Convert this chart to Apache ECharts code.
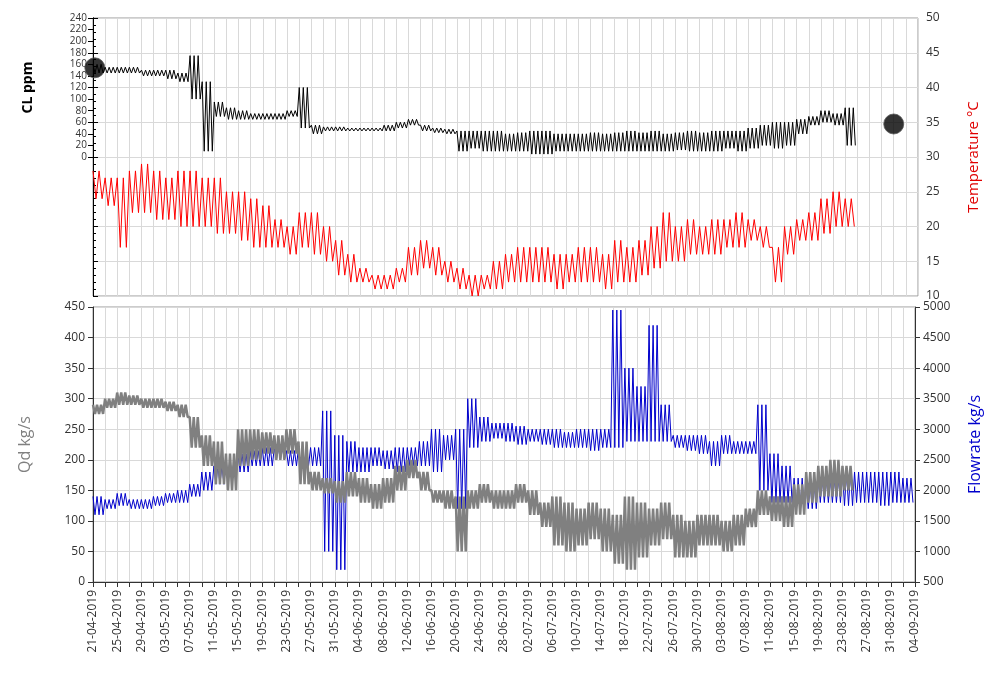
<!DOCTYPE html>
<html><head><meta charset="utf-8">
<script src="https://cdn.jsdelivr.net/npm/echarts@6/dist/echarts.min.js"></script>
<style>html,body{margin:0;background:#fff}#c{width:991px;height:687px}</style>
</head><body><div id="c"></div>
<script>
// values sampled every 2 days starting 21-04-2019 (day 0)
const clHigh = [160,155,155,155,150,150,150,145,175,130,95,85,80,75,75,75,80,120,55,52,52,50,50,50,55,60,65,55,50,48,45,45,45,45,40,42,45,45,40,40,40,42,40,42,45,42,45,40,42,45,42,45,45,45,50,55,60,60,65,70,80,75,85];
const clLow = [145,145,145,145,140,140,135,130,100,10,70,65,65,65,65,65,70,50,40,45,45,45,45,45,45,50,55,45,42,40,10,15,10,10,10,10,5,5,10,10,10,10,10,10,10,10,10,10,12,10,10,10,15,10,15,20,15,20,40,55,60,55,20];
const tempHigh = [28,27,27,28,29,28,27,28,28,27,27,25,25,24,23,21,20,22,22,20,18,16,14,13,13,14,17,18,17,15,14,13,13,15,16,17,17,17,16,16,17,17,16,18,17,18,20,22,20,21,20,21,21,22,21,20,17,20,21,22,24,25,24];
const tempLow = [24,23,17,22,22,21,21,20,20,20,19,19,18,17,17,17,16,17,16,15,13,12,12,11,11,12,13,14,13,12,11,10,11,11,12,12,12,12,11,12,12,12,11,12,12,13,14,15,15,16,16,16,17,17,18,17,12,16,18,18,19,20,20];
const qdHigh = [290,300,310,305,300,300,295,290,270,240,230,210,250,250,245,240,250,230,180,170,165,180,170,160,170,190,200,180,150,150,140,150,160,150,150,160,150,130,140,130,120,130,120,110,140,130,120,130,110,100,110,110,100,110,120,150,140,140,160,180,190,200,190];
const qdLow = [275,285,290,290,285,285,280,270,220,190,160,150,190,200,210,200,210,160,150,145,130,140,130,120,130,150,170,150,130,120,50,120,130,120,120,130,110,90,60,50,60,70,50,30,20,40,60,70,40,40,60,60,50,60,90,110,100,90,110,130,140,140,150];
const flowHigh = [1900,1850,1950,1850,1850,1900,1950,2000,2100,2300,2400,2500,2600,2650,2700,2700,2650,2700,2700,3300,2900,2800,2700,2700,2650,2700,2700,2800,3000,2900,3000,3500,3200,3100,3100,3050,3000,3000,3000,2950,3000,3000,3000,4950,4000,3700,4700,3400,2900,2900,2900,2800,2900,2800,2800,3400,2600,2400,2200,2100,2200,2200,2300,2300,2300,2300,2300,2200];
const flowLow = [1600,1700,1750,1700,1700,1750,1800,1800,1900,2000,2100,2200,2300,2400,2400,2500,2400,2400,2400,1000,700,2300,2300,2400,2350,2300,2400,2400,2300,2500,1700,2700,2800,2850,2800,2750,2800,2750,2700,2700,2700,2650,2700,2700,2800,2800,2800,2800,2700,2650,2600,2400,2600,2600,2600,2000,1800,1800,1700,1700,1800,1800,1750,1800,1800,1750,1800,1800];
const markers = [[0.3,154],[132,57]];

// alternate between the read high and low of each 2-day step, n swings per step
function zig(hi, lo, n) {
  const out = [];
  hi.forEach(function (h, i) {
    for (let k = 0; k < n; k++) {
      const d = i * 2 + k * 2 / n;
      out.push([d, h], [d + 1 / n, lo[i]]);
    }
  });
  return out;
}
function fmtDay(v) {
  if (v % 4 !== 0) return '';
  const t = new Date(Date.UTC(2019, 3, 21) + v * 86400000);
  const p = n => (n < 10 ? '0' : '') + n;
  return p(t.getUTCDate()) + '-' + p(t.getUTCMonth() + 1) + '-' + t.getUTCFullYear();
}
const grid = '#d9d9d9';
const lbl = {color: '#333', fontSize: 12, fontFamily: 'Open Sans', showMinLabel: true, showMaxLabel: true, hideOverlap: false};
function xAx(gi, showLabels) {
  return {
    type: 'value', gridIndex: gi, min: 0, max: 136, interval: 2,
    axisLine: {show: showLabels, lineStyle: {color: '#333'}},
    axisTick: {show: showLabels},
    splitLine: {show: gi !== 0, lineStyle: {color: grid}},
    axisLabel: showLabels ? Object.assign({rotate: 90, formatter: fmtDay, margin: 8}, lbl) : {show: false}
  };
}
const chart = echarts.init(document.getElementById('c'));
chart.setOption({
  animation: false,
  grid: [
    {left: 93, right: 73, top: 18, height: 139},
    {left: 93, right: 73, top: 18, height: 278, show: true, borderColor: '#999'},
    {left: 93, right: 73, top: 307, height: 275, show: true, borderColor: '#999'}
  ],
  xAxis: [xAx(0, false), xAx(1, false), xAx(2, true)],
  yAxis: [
    {type: 'value', gridIndex: 0, min: 0, max: 240, interval: 20, position: 'left',
      axisLine: {show: true, lineStyle: {color: '#000'}}, axisTick: {show: true},
      splitLine: {show: false},
      axisLabel: Object.assign({}, lbl, {fontSize: 10, lineHeight: 10, margin: 6}),
      name: 'CL ppm', nameLocation: 'middle', nameGap: 58, nameRotate: 90,
      nameTextStyle: {fontWeight: 'bold', fontSize: 14, color: '#000', fontFamily: 'Open Sans'}},
    {type: 'value', gridIndex: 1, min: 10, max: 50, interval: 5, position: 'right',
      axisLine: {show: true, lineStyle: {color: '#000'}}, axisTick: {show: true},
      minorTick: {show: true, splitNumber: 5}, splitLine: {lineStyle: {color: grid}}, axisLabel: lbl,
      name: 'Temperature \u00b0C', nameLocation: 'middle', nameGap: 48, nameRotate: 90,
      nameTextStyle: {fontSize: 15, color: '#e00000', fontFamily: 'Open Sans'}},
    {type: 'value', gridIndex: 2, min: 0, max: 450, interval: 50, position: 'left',
      axisLine: {show: true, lineStyle: {color: '#333'}}, axisTick: {show: true},
      splitLine: {lineStyle: {color: grid}}, axisLabel: lbl,
      name: 'Qd kg/s', nameLocation: 'middle', nameGap: 60, nameRotate: 90,
      nameTextStyle: {fontSize: 16, color: '#808080', fontFamily: 'Open Sans'}},
    {type: 'value', gridIndex: 2, min: 500, max: 5000, interval: 500, position: 'right',
      axisLine: {show: true, lineStyle: {color: '#333'}}, axisTick: {show: true},
      splitLine: {show: false}, axisLabel: Object.assign({formatter: v => String(v)}, lbl),
      name: 'Flowrate kg/s', nameLocation: 'middle', nameGap: 52, nameRotate: 90,
      nameTextStyle: {fontSize: 16, color: '#0000cc', fontFamily: 'Open Sans'}}
  ],
  series: [
    {type: 'line', xAxisIndex: 0, yAxisIndex: 0, data: zig(clHigh, clLow, 3), showSymbol: false,
      lineStyle: {color: '#000', width: 1}},
    {type: 'scatter', xAxisIndex: 0, yAxisIndex: 0, data: markers, symbolSize: 20,
      itemStyle: {color: '#000', borderColor: '#555', borderWidth: 1}},
    {type: 'line', xAxisIndex: 1, yAxisIndex: 1, data: zig(tempHigh, tempLow, 2), showSymbol: false,
      lineStyle: {color: '#ff0000', width: 1}},
    {type: 'line', xAxisIndex: 2, yAxisIndex: 3, data: zig(flowHigh, flowLow, 3), showSymbol: false,
      lineStyle: {color: '#0000cc', width: 1}},
    {type: 'line', xAxisIndex: 2, yAxisIndex: 2, data: zig(qdHigh, qdLow, 3), showSymbol: false,
      lineStyle: {color: '#808080', width: 2.5}}
  ]
});
</script></body></html>
